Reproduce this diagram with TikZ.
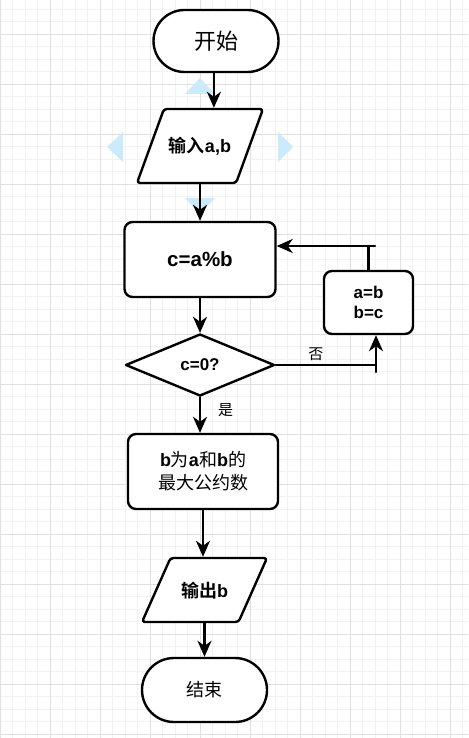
\documentclass[tikz,border=0pt]{standalone}
\usepackage{fontspec}
\setmainfont{Liberation Sans}
\newfontfamily\zhfont{Noto Sans CJK SC}[BoldFont={Noto Sans CJK SC Bold}]
\usepackage{tikz}
\usetikzlibrary{arrows.meta,
                calc,
                shapes.geometric}
\definecolor{gridmaj}{rgb}{0.88,0.88,0.88}
\definecolor{gridmin}{rgb}{0.95,0.95,0.95}
\definecolor{hint}{rgb}{0.80,0.92,0.98}

\begin{document}
\begin{tikzpicture}[line cap=round,line join=round,x=1pt,y=-1pt,
  every node/.style={inner sep=0pt},
  term/.style={draw,fill=white,line width=2.4pt,rounded corners=31pt,minimum width=125pt,minimum height=62pt},
  io/.style={draw,fill=white,line width=2.4pt,trapezium,trapezium left angle=70,trapezium right angle=110,
    trapezium stretches body=true,rounded corners=3pt,text height=15.5pt,text depth=1.5pt,
    inner xsep=2pt,inner ysep=28.5pt,minimum width=126pt,
    font=\fontsize{18}{22}\selectfont\bfseries},
  proc/.style={draw,fill=white,line width=2.4pt,rounded corners=8pt,align=center},
  test/.style={draw,fill=white,line width=2.4pt,diamond,minimum width=149pt,minimum height=62pt,
    font=\fontsize{17}{20}\selectfont\bfseries},
  lnk/.style={line width=2.4pt},
  arr/.style={line width=2.4pt,-{Stealth[length=16pt,width=14pt,inset=5pt]}},
  lbl/.style={font=\zhfont\fontsize{15}{17}\selectfont}]
\useasboundingbox (0,0) rectangle (468,738);
\fill[white] (0,0) rectangle (468,738);
% grid
\foreach \x in {0,12.5,...,468}
  \draw[gridmin,line width=0.8pt] (\x,0) -- (\x,738);
\foreach \y in {-3.5,9,...,738}
  \draw[gridmin,line width=0.8pt] (0,\y) -- (468,\y);
\foreach \x in {0,50,...,450}
  \draw[gridmaj,line width=0.8pt] (\x,0) -- (\x,738);
\foreach \y in {34,84,...,734}
  \draw[gridmaj,line width=0.8pt] (0,\y) -- (468,\y);
% selection hints
\fill[hint] (185,94) -- (200,78) -- (215,94) -- cycle;
\fill[hint] (185,198) -- (200,214) -- (215,198) -- cycle;
\fill[hint] (123,132) -- (107,147) -- (123,162) -- cycle;
\fill[hint] (278,132) -- (293,147) -- (278,162) -- cycle;
% nodes
\node[term] (start) at (216,41) {\zhfont\fontsize{22}{26}\selectfont 开始};
\node[io] (input) at (200,146) {{\zhfont 输入}a,b};
\node[proc,minimum width=151pt,minimum height=75pt,font=\fontsize{20.5}{24}\selectfont\bfseries] (calc) at (200,259.5) {c=a\%b};
\node[test] (cond) at (200,365) {c=0?};
\node[proc,minimum width=89pt,minimum height=63pt,font=\fontsize{17}{20}\selectfont\bfseries] (swap) at (368.5,302.5) {a=b\\b=c};
\node[proc,minimum width=150pt,minimum height=75pt,font=\fontsize{18}{23}\selectfont\bfseries] (result) at (203,471.5)
  {b{\zhfont\mdseries 为}a{\zhfont\mdseries 和}b{\zhfont\mdseries 的}\\{\zhfont\mdseries 最大公约数}};
\node[io,minimum width=125pt,inner ysep=23.5pt,trapezium left angle=66,trapezium right angle=114] (output) at (204.5,590) {{\zhfont 输出}b};
\node[term,minimum height=64pt,rounded corners=32pt] (stop) at (204.5,690) {\zhfont\fontsize{18}{22}\selectfont 结束};
% connectors
\draw[arr] (input.top side |- start.south) -- (input.top side);
\draw[arr] (calc.north |- input.south) -- (calc.north);
\draw[arr] (calc) -- (cond);
\draw[arr] (cond.south) -- node[lbl,right=17pt,pos=0.37] (yes) {是} (cond.south |- result.north);
\draw[arr] (result.south) -- (result.south |- output.north);
\draw[arr] (stop.north |- output.south) -- (stop.north);
% loop back
\coordinate (notail) at (376,372);
\coordinate (backtail) at (375,246);
\draw[lnk] (cond.east) -- node[lbl,above=3pt,pos=0.4] (no) {否} (cond.east -| notail);
\draw[arr] (notail) -- (notail |- swap.south);
\draw[lnk] (swap.north) -- (swap.north |- backtail);
\draw[arr] (backtail) -- (backtail -| calc.east);
\end{tikzpicture}
\end{document}
